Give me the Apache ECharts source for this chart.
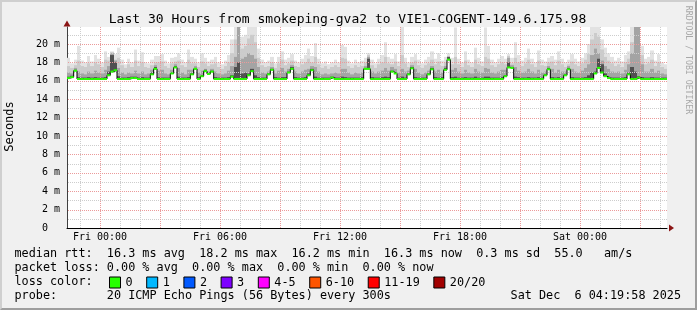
<!DOCTYPE html>
<html><head><meta charset="utf-8">
<script src="https://cdn.jsdelivr.net/npm/echarts@6/dist/echarts.min.js"></script>
<style>
html,body{margin:0;padding:0;background:#f0f0f0;}
#frame{position:absolute;left:0;top:0;width:697px;height:310px;box-sizing:border-box;border-top:2px solid #cfcfcf;border-left:2px solid #cfcfcf;border-right:2px solid #9e9e9e;border-bottom:2px solid #9e9e9e;background:#f0f0f0;}
#chart{position:absolute;left:0;top:0;width:697px;height:310px;}
</style></head><body>
<div id="frame"></div><div id="chart"></div>
<script>
// ---------------- data ----------------
const titleText = 'Last 30 Hours from smokeping-gva2 to VIE1-COGENT-149.6.175.98';
const startHour = -1.65;        // hours relative to Fri 00:00
const stepHours = 1 / 6;        // 10 minute steps

const median = [
 16.3,16.4,17.1,16.2,16.2,16.2,16.2,16.2,16.2,16.2,
 16.2,16.2,16.6,17.0,17.15,16.2,16.2,16.2,16.2,16.3,
 16.3,16.2,16.2,16.2,16.2,16.7,17.3,16.2,16.2,16.2,
 16.2,16.8,17.45,16.2,16.2,16.2,16.2,16.7,17.3,16.2,
 16.5,17.05,16.75,17.0,16.2,16.2,16.2,16.2,16.2,16.45,
 16.2,16.2,16.2,16.2,16.6,17.05,16.2,16.2,16.2,16.2,
 16.7,17.2,16.2,16.2,16.2,16.2,16.9,17.3,16.2,16.2,
 16.2,16.2,16.6,17.15,16.2,16.2,16.2,16.2,16.2,16.35,
 16.2,16.2,16.2,16.2,16.2,16.2,16.2,16.2,16.2,17.3,
 17.3,16.2,16.2,16.2,16.2,16.2,16.2,17.0,16.8,16.2,
 16.2,16.2,16.7,17.35,16.2,16.2,16.2,16.2,16.7,17.25,
 16.2,16.2,16.2,17.2,18.3,16.2,16.2,16.2,16.2,16.2,
 16.2,16.2,16.2,16.2,16.2,16.2,16.2,16.2,16.2,16.2,
 16.2,16.5,17.45,17.4,16.2,16.2,16.2,16.2,16.2,16.2,
 16.2,16.2,16.2,16.6,17.25,16.2,16.2,16.2,16.2,16.6,
 17.25,16.2,16.2,16.2,16.2,16.2,16.2,16.2,16.8,17.4,
 16.9,16.5,16.3,16.2,16.2,16.2,16.2,16.2,16.7,16.2,
 16.2,16.35,16.2,16.2,16.2,16.2,16.2,16.2,16.2,16.2
];
const smokeDark = [
 16.45,16.55,17.2,16.4,16.35,16.35,16.4,16.35,16.4,16.35,
 16.35,16.4,17.0,18.8,18.0,16.5,16.35,16.35,16.4,16.45,
 16.45,16.35,16.4,16.35,16.35,16.9,17.5,16.4,16.35,16.35,
 16.35,16.9,17.6,16.45,16.35,16.35,16.4,16.8,17.4,16.4,
 16.6,17.2,16.9,17.1,16.4,16.35,16.35,16.35,16.4,16.6,
 17.5,18.0,16.8,16.9,16.8,17.3,16.6,16.4,16.35,16.35,
 16.8,17.3,16.4,16.35,16.4,16.4,17.0,17.5,16.4,16.35,
 16.35,16.4,16.8,17.3,16.45,16.35,16.35,16.35,16.35,16.45,
 16.35,16.35,16.45,16.4,16.35,16.35,16.35,16.35,16.4,17.4,
 18.4,16.4,16.35,16.35,16.4,16.45,16.4,17.1,16.9,16.35,
 16.45,16.35,16.8,17.5,16.4,16.35,16.35,16.35,16.8,17.4,
 16.4,16.35,16.4,17.4,18.6,16.4,16.45,16.35,16.35,16.4,
 16.35,16.35,16.45,16.35,16.35,16.45,16.45,16.35,16.35,16.35,
 16.4,16.6,18.0,17.5,16.45,16.4,16.35,16.35,16.4,16.35,
 16.35,16.4,16.35,16.7,17.4,16.4,16.35,16.4,16.35,16.7,
 17.4,16.4,16.35,16.35,16.35,16.4,16.6,16.9,17.0,18.4,
 17.8,16.8,16.45,16.35,16.35,16.35,16.35,16.4,16.9,17.5,
 17.0,16.5,16.4,16.35,16.35,16.4,16.35,16.35,16.35,16.35
];
const smokeMid = [
 16.9,16.8,17.4,17.0,16.8,16.7,17.0,16.8,17.1,16.9,
 16.8,17.2,17.6,19.0,18.2,17.4,16.9,16.7,16.9,16.8,
 17.1,16.8,17.0,16.7,16.8,17.2,17.7,17.1,17.2,16.8,
 16.7,17.2,17.8,17.4,16.9,16.7,17.2,17.2,17.6,16.9,
 17.1,17.3,17.0,17.3,17.0,16.8,16.7,16.8,17.1,17.6,
 18.6,21.9,18.4,18.6,19.0,18.8,18.4,17.5,16.9,16.8,
 17.0,17.5,16.8,17.1,17.4,17.0,17.3,17.7,17.0,16.8,
 17.0,17.2,17.3,17.6,17.5,17.0,16.7,16.8,16.7,16.8,
 16.9,16.8,17.3,17.3,16.9,16.7,16.9,16.8,16.9,17.6,
 18.6,17.0,16.8,17.0,17.1,17.4,17.1,17.5,17.3,16.9,
 17.3,17.0,17.1,17.7,17.3,16.9,16.7,16.9,17.1,17.6,
 17.0,17.2,16.9,17.6,18.6,17.2,17.4,17.0,16.8,17.2,
 16.9,16.8,17.3,17.0,16.9,17.4,17.3,16.9,16.8,17.0,
 17.2,17.2,18.5,17.7,17.5,17.1,16.9,17.0,17.3,17.0,
 16.8,17.2,16.9,17.0,17.6,17.3,16.9,17.2,17.0,17.0,
 17.6,17.3,17.0,16.9,17.1,17.4,17.8,18.8,19.5,19.0,
 18.2,17.6,17.3,17.0,16.9,17.0,16.8,17.2,17.8,19.0,
 21.9,21.9,17.8,17.0,17.0,17.3,16.9,17.1,16.8,16.7
];
const smokeLight = [
 17.6,17.4,17.7,18.2,17.6,17.5,17.9,17.6,18.0,17.8,
 17.5,18.3,18.2,19.1,18.3,18.5,17.7,17.4,17.8,17.5,
 18.2,17.6,18.0,17.5,17.4,17.7,18.0,18.0,18.1,17.6,
 17.4,17.9,18.1,18.2,17.7,17.5,18.3,17.9,17.9,17.5,
 18.1,17.9,17.6,17.8,17.9,17.5,17.3,17.6,18.0,19.0,
 20.5,21.9,19.5,19.8,20.6,21.0,20.2,18.5,17.7,17.5,
 17.6,18.0,17.4,17.9,18.3,17.7,17.9,18.2,17.6,17.5,
 17.8,18.0,18.4,18.0,18.6,17.8,17.4,17.6,17.3,17.5,
 17.7,17.5,18.5,18.4,17.6,17.4,17.7,17.5,17.6,18.0,
 18.8,17.7,17.4,17.8,18.0,18.6,17.9,17.8,18.1,17.6,
 18.8,17.9,17.5,18.0,18.2,17.7,17.4,17.7,17.9,18.3,
 17.8,18.1,17.6,18.0,18.7,17.8,18.6,17.8,17.5,18.2,
 17.7,17.5,18.3,17.8,17.6,18.6,18.4,17.7,17.5,17.8,
 18.0,17.8,18.7,17.9,18.5,18.0,17.6,17.9,18.3,17.8,
 17.5,18.2,17.7,17.6,18.0,18.1,17.7,18.2,17.8,17.5,
 17.8,18.1,17.8,17.6,17.9,18.3,18.9,20.5,21.2,20.8,
 19.4,18.6,18.2,17.9,17.6,17.8,17.5,18.0,18.4,20.2,
 21.5,21.0,18.8,17.8,17.9,18.3,17.6,18.0,17.5,17.3
];
const smokeMax = [
 18.5,17.9,18.3,19.8,18.2,18.0,18.7,18.1,18.8,18.4,
 18.0,19.2,18.6,19.2,18.9,19.6,18.3,17.8,18.4,18.0,
 19.4,18.2,19.1,18.0,17.9,18.3,18.7,18.7,18.9,18.2,
 17.9,18.5,18.6,19.0,18.3,18.0,19.4,18.6,18.4,18.0,
 19.0,18.5,18.1,18.3,18.6,18.0,17.8,18.2,18.8,20.5,
 21.9,21.9,20.8,21.0,21.9,21.9,21.9,19.5,18.3,18.0,
 18.2,18.6,17.9,18.6,19.2,18.3,18.5,18.9,18.2,18.0,
 18.4,18.8,19.5,18.7,20.1,18.4,17.9,18.1,17.8,18.0,
 18.3,18.0,19.9,19.7,18.2,17.9,18.3,18.0,18.2,18.5,
 19.0,18.3,17.9,18.4,18.8,20.2,18.6,18.4,18.9,18.1,
 21.9,18.5,18.0,18.6,18.9,18.3,17.9,18.3,18.6,19.2,
 18.4,19.0,18.2,18.6,19.0,18.5,21.8,18.4,18.0,19.2,
 18.3,18.0,19.6,18.5,18.1,21.8,19.8,18.3,18.0,18.4,
 18.7,18.4,18.9,18.5,20.2,18.8,18.2,18.5,19.5,18.4,
 18.0,19.3,18.3,18.1,18.5,18.7,18.3,19.2,18.4,18.0,
 18.3,18.9,18.4,18.1,18.5,19.0,20.0,21.9,21.9,21.9,
 20.5,19.6,19.0,18.6,18.2,18.5,18.1,18.8,19.2,21.9,
 21.9,21.9,19.8,18.4,18.6,19.3,18.2,18.9,18.0,17.8
];

const xTickValues = [0, 6, 12, 18, 24];
const xTickLabels = ['Fri 00:00', 'Fri 06:00', 'Fri 12:00', 'Fri 18:00', 'Sat 00:00'];
const yTickValues = [0, 2, 4, 6, 8, 10, 12, 14, 16, 18, 20];
const yTickLabels = ['0  ', '2 m', '4 m', '6 m', '8 m', '10 m', '12 m', '14 m', '16 m', '18 m', '20 m'];
const yMax = 21.85;

const lossNames = ['0', '1', '2', '3', '4-5', '6-10', '11-19', '20/20'];
const lossColors = ['#26ff00', '#00b8ff', '#0059ff', '#7e00ff', '#ff00ff', '#ff5500', '#ff0000', '#a10000'];

const legendRows = [
  'median rtt:  16.3 ms avg  18.2 ms max  16.2 ms min  16.3 ms now  0.3 ms sd  55.0   am/s',
  'packet loss: 0.00 % avg  0.00 % max  0.00 % min  0.00 % now',
  'loss color:',
  'probe:       20 ICMP Echo Pings (56 Bytes) every 300s'
];
const stampText = 'Sat Dec  6 04:19:58 2025';
const yAxisName = 'Seconds';
const sideText = 'RRDTOOL / TOBI OETIKER';

// ---------------- build ----------------
const MONO = '"DejaVu Sans Mono", monospace';
const tEnd = startHour + median.length * stepHours;
const times = median.map((_, i) => startHour + i * stepHours);

// smoke bands: each drawn from the median up to its top, lightest first
function bandSeries(tops, color) {
  return {
    type: 'custom', silent: true, clip: true, z: 1,
    data: tops.map((v, i) => [times[i], times[i] + stepHours, median[i], Math.max(v, median[i])]),
    encode: { x: [0, 1], y: [2, 3] },
    renderItem: (params, api) => {
      const a = api.coord([api.value(0), api.value(3)]);
      const b = api.coord([api.value(1), api.value(2)]);
      const x0 = Math.round(a[0]), x1 = Math.round(b[0]);
      return { type: 'rect', shape: { x: x0, y: a[1], width: x1 - x0, height: b[1] - a[1] },
               style: { fill: color } };
    }
  };
}
const smokeSets = [smokeMax, smokeLight, smokeMid, smokeDark];
const smokeColors = ['#e2e2e2', '#cbcbcb', '#a4a4a4', '#505050'];

// grid lines (vertical every hour, horizontal every 1 m), drawn as 1px dots
const vMinor = [], vMajor = [], hMinor = [], hMajor = [];
for (let h = Math.ceil(startHour); h < tEnd; h++) (h % 3 === 0 ? vMajor : vMinor).push([h, 1]);
for (let v = 1; v < yMax; v++) (v % 2 === 0 ? hMajor : hMinor).push([1, v]);

function gridSeries(data, vertical, color) {
  return {
    type: 'custom', silent: true, z: 3, data,
    encode: { x: 0, y: 1 },
    renderItem: (params, api) => {
      const children = [];
      if (vertical) {
        const v = api.value(0);
        const p0 = api.coord([v, 0]), p1 = api.coord([v, yMax]);
        const x = Math.round(p0[0]);
        for (let y = Math.round(p1[1]); y < Math.round(p0[1]); y += 2)
          children.push({ type: 'rect', shape: { x, y, width: 1, height: 1 }, style: { fill: color } });
      } else {
        const v = api.value(1);
        const p0 = api.coord([startHour, v]), p1 = api.coord([tEnd, v]);
        const y = Math.round(p0[1]);
        for (let x = Math.round(p0[0]) + 1; x < Math.round(p1[0]); x += 2)
          children.push({ type: 'rect', shape: { x, y, width: 1, height: 1 }, style: { fill: color } });
      }
      return { type: 'group', children };
    }
  };
}
const gridMinor = '#cdcdcd', gridMajor = '#eb9a9a';

const legendSeries = lossNames.map((n, i) => ({
  type: 'bar', name: n, data: [], itemStyle: { color: lossColors[i], borderColor: '#000', borderWidth: 1 }
}));

const chart = echarts.init(document.getElementById('chart'), null, { renderer: 'canvas' });
chart.setOption({
  animation: false,
  backgroundColor: 'transparent',
  grid: { left: 67, right: 30, top: 27, bottom: 82, show: true, backgroundColor: '#ffffff', borderWidth: 0 },
  xAxis: {
    type: 'value', min: startHour, max: tEnd,
    axisLine: { show: true, onZero: false, lineStyle: { color: '#000', width: 1 } },
    axisTick: { show: false }, splitLine: { show: false },
    axisLabel: {
      customValues: xTickValues, margin: 4, color: '#000', fontFamily: MONO, fontSize: 10,
      formatter: v => { const k = xTickValues.indexOf(Math.round(v)); return k >= 0 ? xTickLabels[k] : ''; }
    }
  },
  yAxis: {
    type: 'value', min: 0, max: yMax, interval: 2,
    axisLine: { show: true, onZero: false, lineStyle: { color: '#404040', width: 1 } },
    axisTick: { show: false }, splitLine: { show: false },
    axisLabel: {
      showMaxLabel: false, margin: 7, color: '#000', fontFamily: MONO, fontSize: 10,
      formatter: v => { const k = yTickValues.indexOf(Math.round(v)); return k >= 0 ? yTickLabels[k] : ''; }
    }
  },
  legend: {
    data: lossNames, left: 109, top: 276.5, itemWidth: 11, itemHeight: 11, itemGap: 13.6,
    icon: 'rect', selectedMode: false, padding: 0,
    itemStyle: { borderColor: '#000', borderWidth: 1 },
    textStyle: { fontFamily: MONO, fontSize: 11.8, color: '#000' }
  },
  series: [
    ...smokeSets.map((s, k) => bandSeries(s, smokeColors[k])),
    gridSeries(vMinor, true, gridMinor),
    gridSeries(hMinor, false, gridMinor),
    gridSeries(vMajor, true, gridMajor),
    gridSeries(hMajor, false, gridMajor),
    { type: 'line', step: 'end', data: median.map((v, i) => [times[i], v]), showSymbol: false, silent: true,
      lineStyle: { color: '#000', width: 1 }, z: 4 },
    { type: 'custom', silent: true, z: 5,
      data: median.map((v, i) => [times[i], times[i] + stepHours, v]),
      encode: { x: [0, 1], y: 2 },
      renderItem: (params, api) => {
        const p0 = api.coord([api.value(0), api.value(2)]);
        const p1 = api.coord([api.value(1), api.value(2)]);
        return { type: 'line', shape: { x1: p0[0], y1: p0[1], x2: p1[0], y2: p1[1] },
                 style: { stroke: lossColors[0], lineWidth: 2 } };
      } },
    ...legendSeries
  ],
  graphic: [
    { type: 'text', x: 347.5, y: 19.5, style: { text: titleText, font: '13px ' + MONO, fill: '#000', align: 'center', verticalAlign: 'middle' } },
    { type: 'text', x: 10, y: 126.5, rotation: Math.PI / 2, style: { text: yAxisName, font: '12px ' + MONO, fill: '#000', align: 'center', verticalAlign: 'middle' } },
    { type: 'text', x: 688, y: 60, rotation: -Math.PI / 2, style: { text: sideText, font: '8.2px ' + MONO, fill: '#a8a8a8', align: 'center', verticalAlign: 'middle' } },
    { type: 'text', x: 14.5, y: 254.3, style: { text: legendRows[0], font: '11.8px ' + MONO, fill: '#000', align: 'left', verticalAlign: 'middle' } },
    { type: 'text', x: 14.5, y: 268.3, style: { text: legendRows[1], font: '11.8px ' + MONO, fill: '#000', align: 'left', verticalAlign: 'middle' } },
    { type: 'text', x: 14.5, y: 282.3, style: { text: legendRows[2], font: '11.8px ' + MONO, fill: '#000', align: 'left', verticalAlign: 'middle' } },
    { type: 'text', x: 14.5, y: 296.3, style: { text: legendRows[3], font: '11.8px ' + MONO, fill: '#000', align: 'left', verticalAlign: 'middle' } },
    { type: 'text', x: 681, y: 296.3, style: { text: stampText, font: '11.8px ' + MONO, fill: '#000', align: 'right', verticalAlign: 'middle' } },
    { type: 'polygon', shape: { points: [[669, 224.5], [674, 228], [669, 231.5]] }, style: { fill: '#8b1515' }, z: 10 },
    { type: 'polygon', shape: { points: [[63.5, 26.5], [67, 20.5], [70.5, 26.5]] }, style: { fill: '#8b1515' }, z: 10 }
  ]
});
</script></body></html>
